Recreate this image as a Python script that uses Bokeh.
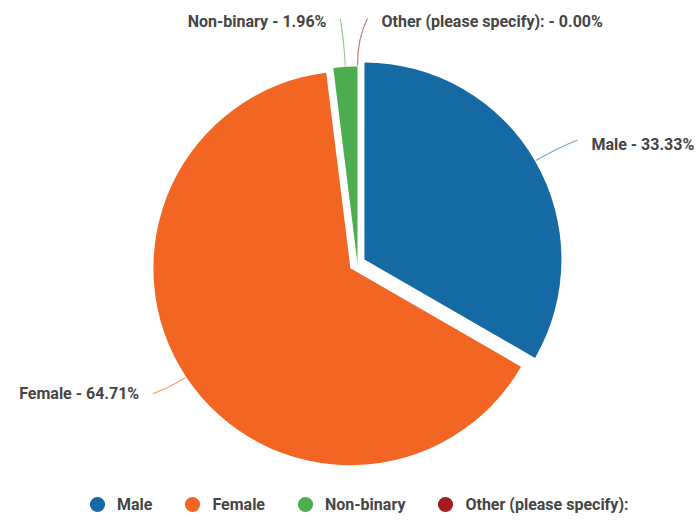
import math
from bokeh.plotting import figure
from bokeh.models import Range1d, Legend, LegendItem, ColumnDataSource
from bokeh.core.properties import value
from bokeh.embed import file_html
from bokeh.resources import INLINE

# ---- data ----
categories = ["Male", "Female", "Non-binary", "Other (please specify):"]
percents = [33.33, 64.71, 1.96, 0.00]
colors = ["#156aa3", "#f26522", "#4cae4f", "#a31c1f"]

# ---- layout (pixels) ----
W, H = 699, 513
CX, CY, R = 357, 250, 197
explode = [8, 8.5, 0, 0]
label_ext = [42, 30, 48, 48]
label_shift = [6, -8, -2, 10]
label_side = [1, -1, -1, 1]
text_dy = [-5, 0, -3, -3]
TEXT_COLOR = "#454545"
FONT = "Roboto"

p = figure(width=W, height=H, x_range=Range1d(0, W), y_range=Range1d(0, H),
           output_backend="svg", toolbar_location=None, min_border=0,
           x_axis_location=None, y_axis_location=None)
p.grid.visible = False
p.outline_line_color = None
p.background_fill_color = "white"
p.border_fill_color = "white"

cum = 0.0
wx, wy, ws, we, wc = [], [], [], [], []
lines = dict(x0=[], y0=[], x1=[], y1=[], cx=[], cy=[], color=[])
tl = dict(x=[], y=[], text=[])
tr = dict(x=[], y=[], text=[])
for i, (cat, pct, col) in enumerate(zip(categories, percents, colors)):
    start = 90 - 3.6 * cum
    end = start - 3.6 * pct
    mid = math.radians(start - 1.8 * pct)
    cum += pct
    ox = CX + explode[i] * math.cos(mid)
    oy = CY + explode[i] * math.sin(mid)
    if pct > 0:
        wx.append(ox); wy.append(oy)
        ws.append(math.radians(start)); we.append(math.radians(end)); wc.append(col)
    # leader line
    px0 = ox + (R + 1) * math.cos(mid)
    py0 = oy + (R + 1) * math.sin(mid)
    ex = ox + (R + label_ext[i]) * math.cos(mid) + label_shift[i]
    ey = oy + (R + label_ext[i]) * math.sin(mid)
    ccx = ox + (R + 0.6 * label_ext[i]) * math.cos(mid)
    ccy = oy + (R + 0.6 * label_ext[i]) * math.sin(mid)
    lines["x0"].append(px0); lines["y0"].append(py0)
    lines["x1"].append(ex); lines["y1"].append(ey)
    lines["cx"].append(ccx); lines["cy"].append(ccy)
    lines["color"].append(col)
    txt = f"{cat} - {pct:.2f}%"
    if label_side[i] > 0:
        tl["x"].append(ex + 14); tl["y"].append(ey + text_dy[i]); tl["text"].append(txt)
    else:
        tr["x"].append(ex - 14); tr["y"].append(ey + text_dy[i]); tr["text"].append(txt)

p.wedge(x=wx, y=wy, radius=R, start_angle=ws, end_angle=we, direction="clock",
        fill_color=wc, line_color=None)
p.quadratic(x0="x0", y0="y0", x1="x1", y1="y1", cx="cx", cy="cy",
            line_color="color", line_alpha=0.6, line_width=1.2,
            source=ColumnDataSource(lines))
for src, align in ((tl, "left"), (tr, "right")):
    p.text(x="x", y="y", text="text", source=ColumnDataSource(src),
           text_align=align, text_baseline="middle", text_font_size="16px",
           text_color=TEXT_COLOR, text_font_style="bold", text_font=value(FONT))

# legend via dummy markers (off-canvas points)
items = []
for cat, col in zip(categories, colors):
    rr = p.scatter(x=[-500], y=[-500], size=15, marker="circle",
                   fill_color=col, line_color=None)
    items.append(LegendItem(label=cat, renderers=[rr]))
legend = Legend(items=items, orientation="horizontal", location=(78, -10),
                glyph_width=38, glyph_height=38, label_standoff=1, spacing=21,
                padding=0, margin=0, border_line_alpha=0, background_fill_alpha=0,
                label_text_font=FONT, label_text_font_size="16px",
                label_text_font_style="bold", label_text_color=TEXT_COLOR,
                label_text_baseline="middle")
p.add_layout(legend)

open("out.html", "w").write(file_html(p, INLINE))
